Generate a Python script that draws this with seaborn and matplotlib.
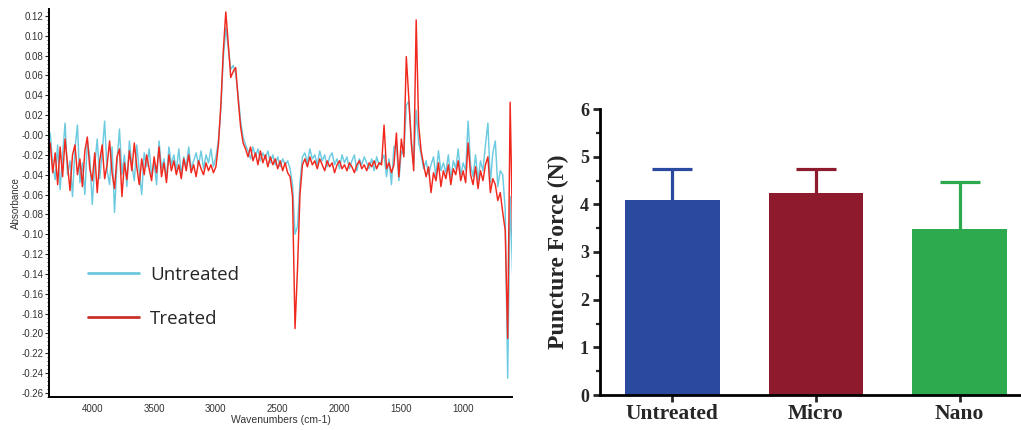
import numpy as np
import pandas as pd
import seaborn as sns
import matplotlib.pyplot as plt
from matplotlib.lines import Line2D
from matplotlib.ticker import MultipleLocator

# --- FTIR spectra (absorbance x 1000), every 20 cm-1 from 4340 down to 600 ---
wn_start = 4340
wn_step = 20
treated_mA = [
    -8, -38, -18, -50, -12, -42, -4, -30, -56, -20,
    -10, -40, -24, -52, -16, -2, -34, -46, -18, -58,
    -26, -10, -44, -30, -6, -38, -54, -22, -14, -62,
    -28, -45, -16, -36, -8, -32, -50, -24, -40, -20,
    -34, -46, -22, -38, -12, -42, -28, -48, -20, -36,
    -26, -40, -30, -44, -24, -36, -20, -38, -30, -42,
    -26, -34, -40, -28, -36, -30, -38, -32, -10, 30,
    85, 124, 92, 58, 64, 68, 36, 8, -8, -14,
    -22, -12, -26, -18, -30, -16, -28, -20, -32, -22,
    -30, -24, -34, -26, -36, -28, -38, -42, -62, -195,
    -135, -60, -30, -24, -32, -22, -30, -26, -34, -24,
    -30, -36, -26, -32, -28, -38, -30, -26, -34, -30,
    -36, -28, -32, -38, -30, -26, -34, -30, -36, -28,
    -32, -26, -34, -28, -30, 10, -34, -28, -38, -30,
    2, -42, -4, -22, 79, 38, -8, -36, 116, 10,
    -16, -30, -42, -32, -58, -38, -46, -28, -52, -36,
    -44, -30, -50, -34, -40, -26, -46, -36, -48, -8,
    -40, -50, -32, -54, -36, -46, -30, -22, -58, -44,
    -50, -66, -58, -78, -96, -205, 33, -100,
]
untreated_mA = [
    2, -30, -45, -10, -55, -20, 12, -40, -26, -62,
    -14, 10, -48, -28, -60, -6, -22, -70, -30, -4,
    -44, -18, 14, -36, -50, -12, -78, -28, 6, -40,
    -20, -52, -6, -30, -46, -10, -36, -60, -18, -32,
    -14, -40, -28, -50, -6, -34, -24, -44, -12, -30,
    -20, -36, -14, -40, -22, -32, -12, -34, -26, -18,
    -30, -16, -34, -20, -28, -14, -32, -22, -6, 26,
    78, 108, 88, 66, 70, 62, 40, 14, -2, -10,
    -16, -24, -12, -22, -14, -26, -18, -24, -16, -28,
    -20, -30, -22, -32, -24, -30, -26, -34, -50, -100,
    -92, -48, -22, -18, -28, -14, -24, -20, -30, -16,
    -26, -20, -32, -22, -18, -30, -24, -34, -20, -28,
    -22, -34, -26, -20, -36, -24, -30, -22, -28, -34,
    -24, -36, -22, -30, -26, -20, -42, -24, -50, -12,
    -10, -46, -16, -20, 30, 34, -2, -30, 25, -8,
    -20, -34, -26, -40, -30, -22, -42, -16, -36, -28,
    -38, -20, -44, -26, -34, -14, -40, -28, -36, 14,
    -30, -42, -20, -46, -26, -36, -10, 12, -48, -18,
    -6, -52, -36, -40, -75, -245, -62, -140,
]
abs_ticks = [0.12, 0.10, 0.08, 0.06, 0.04, 0.02, 0.0, -0.02, -0.04, -0.06, -0.08, -0.10,
             -0.12, -0.14, -0.16, -0.18, -0.20, -0.22, -0.24, -0.26]
abs_labels = ["0.12", "0.10", "0.08", "0.06", "0.04", "0.02", "-0.00", "-0.02", "-0.04", "-0.06",
              "-0.08", "-0.10", "-0.12", "-0.14", "-0.16", "-0.18", "-0.20", "-0.22", "-0.24", "-0.26"]
wn_ticks = [4000, 3500, 3000, 2500, 2000, 1500, 1000]

# --- puncture force (mean and SD) ---
groups = ["Untreated", "Micro", "Nano"]
force_mean = [4.09, 4.23, 3.49]
force_sd = [0.65, 0.51, 0.97]

wavenumber = wn_start - wn_step * np.arange(len(treated_mA))
spec = pd.concat([
    pd.DataFrame({"wavenumber": wavenumber, "absorbance": np.array(untreated_mA) / 1000, "sample": "Untreated"}),
    pd.DataFrame({"wavenumber": wavenumber, "absorbance": np.array(treated_mA) / 1000, "sample": "Treated"}),
])

sns.set_style("white")
fig = plt.figure(figsize=(10.21, 4.30), dpi=100)

# ---------- left: spectrum ----------
ax1 = fig.add_axes([49 / 1021, 33 / 430, 463 / 1021, 388 / 430])
sns.lineplot(data=spec, x="wavenumber", y="absorbance", hue="sample",
             hue_order=["Untreated", "Treated"],
             palette={"Untreated": "#6ccbe0", "Treated": "#f0281e"},
             estimator=None, sort=False, linewidth=1.05, legend=False, ax=ax1)
ax1.set_xlim(4350, 605)
ax1.set_ylim(-0.264, 0.127)
ax1.set_yticks(abs_ticks)
ax1.set_yticklabels(abs_labels, fontsize=7, family="Liberation Sans", color="#333333")
ax1.set_xticks(wn_ticks)
ax1.set_xticklabels([str(t) for t in wn_ticks], fontsize=7, family="Liberation Sans", color="#333333")
ax1.yaxis.set_minor_locator(MultipleLocator(0.004))
ax1.tick_params(axis="y", which="major", direction="out", length=3, width=0.8, pad=1, left=True)
ax1.tick_params(axis="y", which="minor", direction="out", length=1.5, width=0.6, left=True)
ax1.tick_params(axis="x", which="major", length=0, pad=5)
for s in ["top", "right"]:
    ax1.spines[s].set_visible(False)
for s in ["left", "bottom"]:
    ax1.spines[s].set_color("black")
    ax1.spines[s].set_linewidth(1.4)
ax1.set_xlabel("Wavenumbers (cm-1)", fontsize=7.5, family="Liberation Sans", color="#333333", labelpad=1)
ax1.set_ylabel("Absorbance", fontsize=7, family="Liberation Sans", color="#333333", labelpad=0)

handles = [Line2D([], [], color="#6cc8dc", lw=2), Line2D([], [], color="#c8302a", lw=2)]
ax1.legend(handles, ["Untreated", "Treated"], loc="upper left", bbox_to_anchor=(0.084, 0.338),
           frameon=False, prop={"family": "Open Sans", "size": 13.5},
           handlelength=2.7, handletextpad=0.6, labelspacing=1.38, borderpad=0, borderaxespad=0)

# ---------- right: bars ----------
ax2 = fig.add_axes([600 / 1021, 35 / 430, 420 / 1021, 286 / 430])
bar_colors = ["#2a4aa0", "#8e1a2d", "#2eaa4e"]
sns.barplot(x=groups, y=force_mean, hue=groups, palette=bar_colors, width=0.66,
            saturation=1, legend=False, errorbar=None, edgecolor="none", ax=ax2)
for bar in ax2.patches:
    bar.set_zorder(2)
# error bars sit behind the bars so only the upper half shows
for i, g in enumerate(groups):
    ax2.errorbar(i, force_mean[i], yerr=force_sd[i], fmt="none", zorder=1,
                 ecolor=bar_colors[i], elinewidth=2.3, capsize=14.4, capthick=2.3)
ax2.set_xlim(-0.503, 2.42)
ax2.set_ylim(0, 6)
ax2.yaxis.set_major_locator(MultipleLocator(1))
ax2.yaxis.set_minor_locator(MultipleLocator(0.5))
for s in ["top", "right"]:
    ax2.spines[s].set_visible(False)
for s in ["left", "bottom"]:
    ax2.spines[s].set_color("black")
    ax2.spines[s].set_linewidth(2)
    ax2.spines[s].set_zorder(3)
ax2.tick_params(axis="y", which="major", direction="out", length=5, width=2, pad=3, left=True)
ax2.tick_params(axis="y", which="minor", direction="out", length=3, width=1.6, left=True)
ax2.tick_params(axis="x", which="major", direction="out", length=5, width=2, pad=1.5, bottom=True)
for lab in ax2.get_yticklabels():
    lab.set_fontfamily("Liberation Serif")
    lab.set_fontweight("bold")
    lab.set_fontsize(13)
for lab in ax2.get_xticklabels():
    lab.set_fontfamily("Liberation Serif")
    lab.set_fontweight("bold")
    lab.set_fontsize(15.5)
ax2.set_ylabel("Puncture Force (N)", fontsize=17, family="Liberation Serif", fontweight="bold", labelpad=8)
ax2.set_xlabel("")

fig.savefig("out.png", dpi=100)
